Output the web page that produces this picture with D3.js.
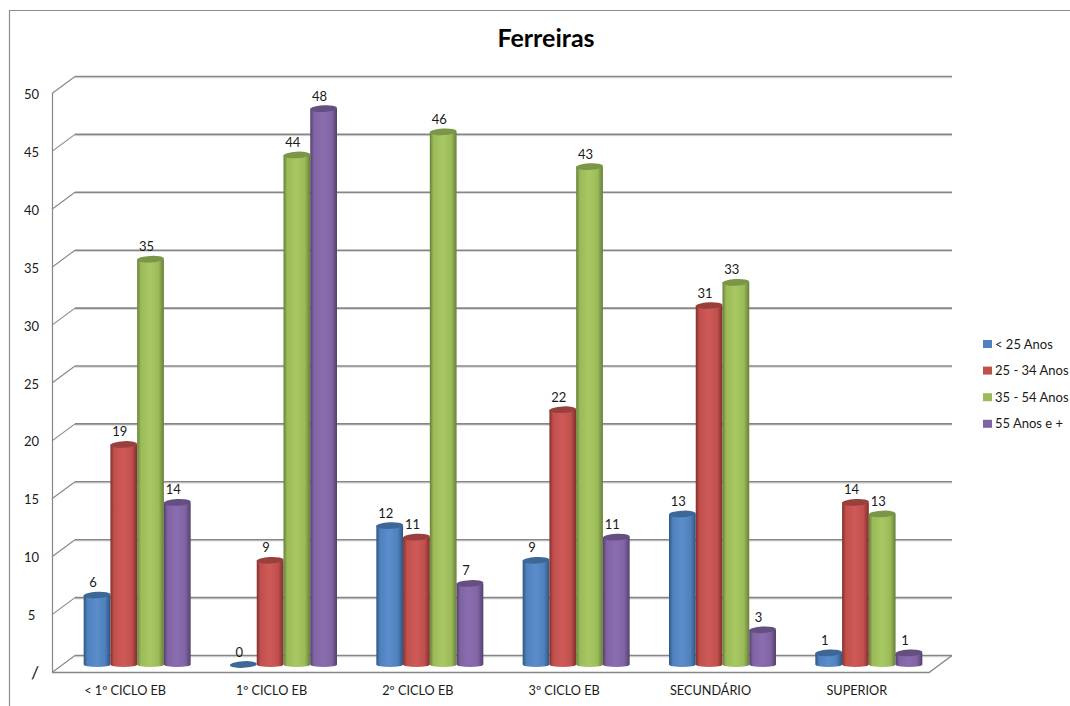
<!DOCTYPE html>
<html lang="pt">
<head>
<meta charset="utf-8">
<title>Ferreiras</title>
<script src="https://cdn.jsdelivr.net/npm/d3@7/dist/d3.min.js"></script>
<style>
  html, body { margin: 0; padding: 0; background: #fff; }
  svg { display: block; }
  text { font-family: Lato, "Open Sans", sans-serif; fill: #1a1a1a; }
</style>
</head>
<body>
<svg id="chart" width="1070" height="706"></svg>
<script>
const chartTitle = "Ferreiras";
const categories = ["< 1º CICLO EB", "1º CICLO EB", "2º CICLO EB", "3º CICLO EB", "SECUNDÁRIO", "SUPERIOR"];
const seriesNames = ["< 25 Anos", "25 - 34 Anos", "35 - 54 Anos", "55 Anos e +"];
const under25 = [6, 0, 12, 9, 13, 1];
const from25to34 = [19, 9, 11, 22, 31, 14];
const from35to54 = [35, 44, 46, 43, 33, 13];
const over55 = [14, 48, 7, 11, 3, 1];
const seriesValues = [under25, from25to34, from35to54, over55];
const tickValues = [0, 5, 10, 15, 20, 25, 30, 35, 40, 45, 50];
const tickLabels = ["/", "5", "10", "15", "20", "25", "30", "35", "40", "45", "50"];
const seriesBase = ["#4f81bd", "#c0504d", "#9bbb59", "#8064a2"];
const seriesDark = ["#2f5580", "#7f2f2d", "#677f39", "#54406e"];
const seriesLight = ["#5a8dcb", "#cf5a57", "#a7c862", "#8a6db0"];
const seriesTop = ["#3c6797", "#99403d", "#7b9647", "#644e82"];

const svg = d3.select("#chart");
const defs = svg.append("defs");

// Horizontal shading that gives each bar its cylinder look
seriesBase.forEach((c, i) => {
  const g = defs.append("linearGradient").attr("id", "cyl" + i);
  g.append("stop").attr("offset", "0%").attr("stop-color", seriesDark[i]);
  g.append("stop").attr("offset", "14%").attr("stop-color", c);
  g.append("stop").attr("offset", "48%").attr("stop-color", seriesLight[i]);
  g.append("stop").attr("offset", "80%").attr("stop-color", c);
  g.append("stop").attr("offset", "100%").attr("stop-color", seriesDark[i]);
});

// Projection of the 3D box: the floor and back wall are offset from the front plane
const depthX = 23, depthY = 17;
const y = d3.scaleLinear().domain([0, 50]).range([655, 76]);      // back wall
const x0 = d3.scaleBand().domain(categories).range([64, 942]);
const x1 = d3.scaleBand().domain(d3.range(seriesNames.length)).range([0, 107]);
const barLift = 9.5; // bars stand mid-depth, between front edge and back wall
const leftFront = 52, leftBack = leftFront + depthX, rightBack = 952, rightFront = rightBack - depthX;
const gridColor = "#868686";

// Outer chart frame
svg.append("path")
  .attr("d", "M9.5,706V10.5H1070")
  .attr("fill", "none").attr("stroke", "#8c8c8c").attr("stroke-width", 1.2);

// Back wall gridlines with their pale shadow, and the side wall diagonals
const grid = svg.append("g");
grid.selectAll(".shadow").data(tickValues).join("line")
  .attr("x1", leftBack).attr("x2", rightBack)
  .attr("y1", d => y(d) + 1.8).attr("y2", d => y(d) + 1.8)
  .attr("stroke", "#d9d9d9").attr("stroke-width", 1);
grid.selectAll(".major").data(tickValues).join("line")
  .attr("x1", leftBack).attr("x2", rightBack)
  .attr("y1", d => y(d) + .5).attr("y2", d => y(d) + .5)
  .attr("stroke", gridColor).attr("stroke-width", 1.6);
grid.selectAll(".side").data(tickValues).join("line")
  .attr("x1", leftFront).attr("x2", leftBack)
  .attr("y1", d => y(d) + depthY + .5).attr("y2", d => y(d) + .5)
  .attr("stroke", gridColor).attr("stroke-width", 1.1);

// Left wall edge and the front and right edges of the floor
grid.append("line")
  .attr("x1", leftFront + .5).attr("x2", leftFront + .5)
  .attr("y1", y(50) + depthY).attr("y2", y(0) + depthY)
  .attr("stroke", gridColor).attr("stroke-width", 1.2);
grid.append("path")
  .attr("d", `M${leftFront},${y(0) + depthY + .5}H${rightFront}L${rightBack},${y(0) + .5}`)
  .attr("fill", "none").attr("stroke", gridColor).attr("stroke-width", 1.3);

// Value axis labels; the label at the origin is drawn taller than the others
svg.append("g").selectAll("text").data(tickValues).join("text")
  .attr("x", d => d === 0 ? 35 : 31.5)
  .attr("y", d => y(d) + depthY + (d === 0 ? 7 : 6))
  .attr("text-anchor", "middle")
  .attr("font-size", d => d === 0 ? 18 : 13)
  .text((d, i) => tickLabels[i]);

// Category labels along the front edge
svg.append("g").selectAll("text").data(categories).join("text")
  .attr("x", d => x0(d) + x0.bandwidth() / 2 - 12)
  .attr("y", 695)
  .attr("text-anchor", "middle")
  .attr("font-size", 12.7)
  .text(d => d);

// Cylinders: body, lower rim, then slightly tilted top ellipse and value label
const rx = x1.bandwidth() / 2, ryTop = 3.3, ryBase = 2.6;
const rows = categories.flatMap((cat, c) => seriesNames.map((s, i) => ({ cat, i, v: seriesValues[i][c] })));
const bars = svg.append("g").selectAll("g").data(rows).join("g")
  .attr("transform", d => `translate(${x0(d.cat) + x0.bandwidth() / 2 - 53.5 + x1(d.i) + rx},0)`);

bars.append("path")
  .attr("d", d => {
    const base = y(0) + barLift, top = y(d.v) + barLift;
    return `M${-rx},${top}V${base}A${rx},${ryBase} 0 0 0 ${rx},${base}V${top}Z`;
  })
  .attr("fill", d => `url(#cyl${d.i})`);
bars.append("ellipse")
  .attr("rx", rx).attr("ry", ryTop)
  .attr("transform", d => `translate(0,${y(d.v) + barLift}) rotate(-3)`)
  .attr("fill", d => seriesTop[d.i]);
bars.append("text")
  .attr("x", -4)
  .attr("y", d => y(d.v) + barLift - 8)
  .attr("text-anchor", "middle")
  .attr("font-size", 13)
  .text(d => d.v);

// Title
svg.append("text")
  .attr("x", 546).attr("y", 47)
  .attr("text-anchor", "middle")
  .attr("font-size", 25).attr("font-weight", 700)
  .attr("style", "fill:#000")
  .text(chartTitle);

// Legend
const legend = svg.append("g").selectAll("g").data(seriesNames).join("g")
  .attr("transform", (d, i) => `translate(983,${344 + i * 26.6})`);
legend.append("rect")
  .attr("x", 0).attr("y", -4).attr("width", 9).attr("height", 8)
  .attr("fill", (d, i) => seriesBase[i]);
legend.append("text")
  .attr("x", 12).attr("y", 4.5)
  .attr("font-size", 13)
  .text(d => d);
</script>
</body>
</html>
